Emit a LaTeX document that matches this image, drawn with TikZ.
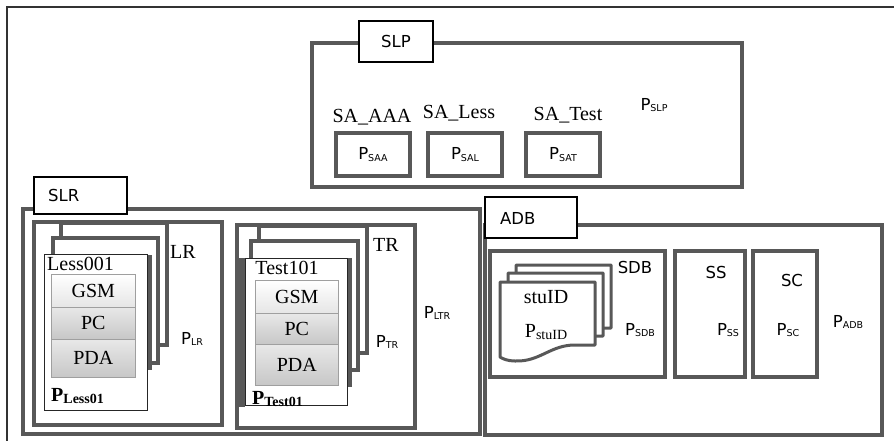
\documentclass[tikz,border=0pt]{standalone}
\usepackage{fontspec}
\usetikzlibrary{fit}
\newfontfamily\labelsans{DejaVu Sans}
\newfontfamily\labelserif{Liberation Serif}
\definecolor{BoxGray}{RGB}{88,88,88}
\definecolor{FrameGray}{RGB}{50,50,50}
\newcommand{\psans}[1]{P\raisebox{-1.5pt}{\fontsize{9.5}{9.5}\selectfont #1}}
\newcommand{\pserif}[1]{P\raisebox{-1.5pt}{\fontsize{14}{14}\selectfont #1}}

\begin{document}
\begin{tikzpicture}[
x=1pt, y=-1pt,
box/.style={
    rectangle,
    draw=BoxGray,
    line width=3.6pt,
    fill=white,
    inner sep=0pt
},
tab/.style={rectangle,draw=black,line width=1.3pt,fill=white,inner sep=0pt},
sheet/.style={rectangle,draw=black!85,line width=1pt,fill=white,inner sep=0pt},
doc/.style={draw=BoxGray,line width=3pt,fill=white,line join=round},
bar/.style={draw=BoxGray,line width=4pt},
cell/.style={
    rectangle,
    draw=gray!75,
    line width=0.6pt,
    inner sep=0pt,
    anchor=north west,
    font=\labelserif\fontsize{20}{22}\selectfont
},
light/.style={cell,top color=white,bottom color=black!10},
dark/.style={cell,top color=black!9,bottom color=black!22},
sanslbl/.style={inner sep=0pt,font=\labelsans\fontsize{16.5}{18}\selectfont},
seriflbl/.style={inner sep=0pt,font=\labelserif\fontsize{20}{22}\selectfont}
]
\useasboundingbox (0,0) rectangle (894,441);

% outer frame
\draw[FrameGray,line width=2.5pt] (7,441) -- (7,7) -- (894,7);

% SLP
\node[box,fit={(312,43) (742,187)}] (slp) {};
\node[tab,fit={(359,21) (433,62)}] (slptab) {};
\node[sanslbl] at (slptab) {SLP};
\node[box,fit={(336,133) (410,176)}] (psaa) {};
\node[box,fit={(428,133) (502,176)}] (psal) {};
\node[box,fit={(526,133) (600,176)}] (psat) {};
\node[sanslbl] at (psaa) {\psans{SAA}};
\node[sanslbl] at (psal) {\psans{SAL}};
\node[sanslbl] at (psat) {\psans{SAT}};
\node[seriflbl] (saaaa) at (372,117) {SA\_AAA};
\node[seriflbl] (saless) at (459,113) {SA\_Less};
\node[seriflbl] (satest) at (568,115) {SA\_Test};
\node[sanslbl] (pslp) at (654,105) {\psans{SLP}};

% SLR
\node[box,fit={(23,209) (480,434)}] (slr) {};
\node[tab,fit={(34,177) (127,214)}] (slrtab) {};
\node[sanslbl,anchor=west] at (48,195) {SLR};
\node[box,fit={(34,222) (222,425)}] (lr) {};
\node[box,fit={(237,225) (415,428)}] (tr) {};

% lesson pages
\node[box,fit={(61,223) (167,345)}] (lrback) {};
\node[box,fit={(53,238) (158,363)}] (lrmid) {};
\draw[bar] (150,255) -- (150,370);
\node[sheet,fit={(44,254) (147,410)}] (less) {};
\node[seriflbl,anchor=west] (lessname) at (47,264) {Less001};
\node[light,minimum width=84pt,minimum height=33pt] (gsm1) at (51,274) {GSM};
\node[dark,minimum width=84pt,minimum height=32pt] (pc1) at (51,307) {PC};
\node[dark,minimum width=84pt,minimum height=38pt] (pda1) at (51,339) {PDA};
\node[seriflbl,anchor=west] (pless) at (51,396) {\textbf{\pserif{Less01}}};
\node[seriflbl] (lrname) at (183,252) {LR};
\node[sanslbl] (plr) at (192,339) {\psans{LR}};

% test pages
\node[box,fit={(259,226) (367,353)}] (trback) {};
\node[box,fit={(251,241) (358,370)}] (trmid) {};
\draw[bar] (349.5,258) -- (349.5,387);
\draw[bar,line width=8pt] (241,258) -- (241,407);
\node[sheet,fit={(245,258) (347,405)}] (test) {};
\node[seriflbl] (testname) at (287,268) {Test101};
\node[light,minimum width=83pt,minimum height=33pt] (gsm2) at (255,280) {GSM};
\node[dark,minimum width=83pt,minimum height=31pt] (pc2) at (255,313) {PC};
\node[dark,minimum width=83pt,minimum height=41pt] (pda2) at (255,344) {PDA};
\node[seriflbl,anchor=west] (ptest) at (252,399) {\textbf{\pserif{Test01}}};
\node[seriflbl] (trname) at (386,245) {TR};
\node[sanslbl] (ptr) at (387,342) {\psans{TR}};
\node[sanslbl] (pltr) at (437,313) {\psans{LTR}};

% ADB
\node[box,fit={(485,225) (882,435)}] (adb) {};
\node[tab,fit={(485,197) (577,238)}] (adbtab) {};
\node[sanslbl,anchor=west] at (500,218) {ADB};
\node[box,fit={(490,251) (665,377)}] (sdb) {};
\node[box,fit={(675,251) (745,377)}] (ss) {};
\node[box,fit={(753,251) (817,377)}] (sc) {};
\foreach \dx/\dy in {16/-17, 8/-9, 0/0}
  \draw[doc,shift={(\dx,\dy)}] (500,282) -- (595,282) -- (595,345) -- (575,345)
    .. controls (550,345) and (540,362) .. (515,361)
    .. controls (508,361) and (503,359) .. (500,357) -- cycle;
\node[seriflbl] (stuid) at (546,297) {stuID};
\node[seriflbl] (pstuid) at (546,332) {\pserif{stuID}};
\node[sanslbl] (sdbname) at (635,267) {SDB};
\node[sanslbl] (psdb) at (640,330) {\psans{SDB}};
\node[sanslbl] (ssname) at (716,272) {SS};
\node[sanslbl] (pss) at (728,330) {\psans{SS}};
\node[sanslbl] (scname) at (792,280) {SC};
\node[sanslbl] (psc) at (788,330) {\psans{SC}};
\node[sanslbl] (padb) at (848,322) {\psans{ADB}};

\end{tikzpicture}
\end{document}
